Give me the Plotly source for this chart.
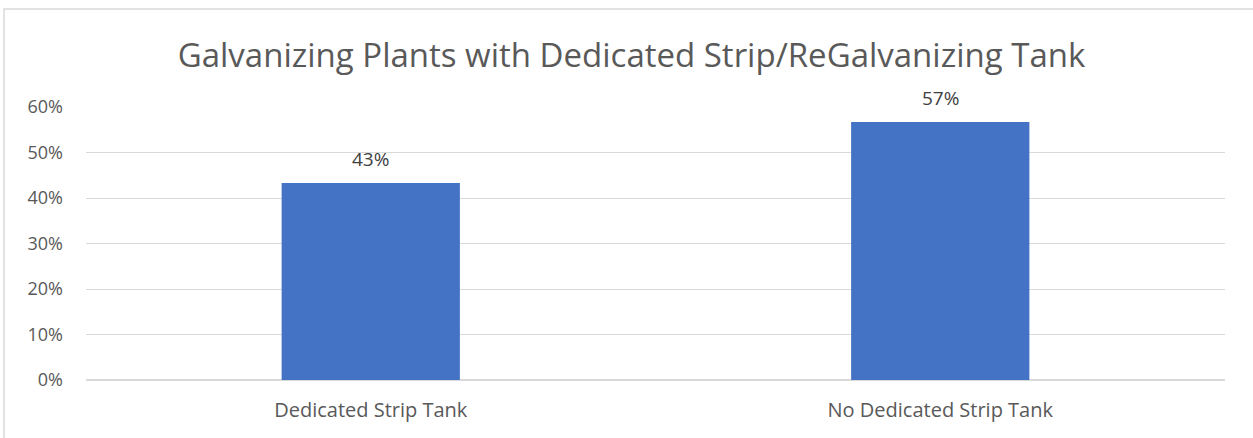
import plotly.graph_objects as go

# Share of galvanizing plants by strip/regalvanizing tank setup
categories = ["Dedicated Strip Tank", "No Dedicated Strip Tank"]
shares = [0.433, 0.567]
tick_values = [0, 0.1, 0.2, 0.3, 0.4, 0.5, 0.6]
tick_labels = ["0%", "10%", "20%", "30%", "40%", "50%", "60%"]

FONT = "Open Sans"
GREY_TEXT = "#595959"
GRID = "#d9d9d9"
BAR = "#4472c4"

fig = go.Figure()
fig.add_trace(go.Bar(
    x=categories,
    y=shares,
    marker=dict(color=BAR, line=dict(width=0)),
    width=0.313,
    hoverinfo="skip",
))

# value labels above each bar
for c, v in zip(categories, shares):
    fig.add_annotation(
        x=c, y=v, text=f"{v:.0%}", showarrow=False,
        yanchor="bottom", yshift=9,
        font=dict(family=FONT, size=19, color="#404040"),
    )

# chart frame
fig.add_shape(
    type="rect", xref="paper", yref="paper",
    x0=-0.072, x1=1.2, y0=-0.6, y1=1.359,
    line=dict(color=GRID, width=1.5), fillcolor="rgba(0,0,0,0)", layer="below",
)

fig.update_layout(
    width=1253, height=438,
    margin=dict(l=86, r=28, t=107, b=58),
    paper_bgcolor="white", plot_bgcolor="white",
    showlegend=False,
    title=dict(
        text="Galvanizing Plants with Dedicated Strip/ReGalvanizing Tank",
        x=0.504, xanchor="center", y=1 - 55 / 438, yanchor="middle",
        font=dict(family=FONT, size=33, color=GREY_TEXT),
    ),
    xaxis=dict(
        showgrid=False, showline=False, zeroline=False,
        ticklabelstandoff=16,
        tickfont=dict(family=FONT, size=20, color=GREY_TEXT),
    ),
    yaxis=dict(
        range=[0, 0.6],
        tickvals=tick_values, ticktext=tick_labels,
        showgrid=True, gridcolor=GRID, gridwidth=1,
        zeroline=True, zerolinecolor=GRID, zerolinewidth=1.5,
        showline=False,
        ticklabelstandoff=22,
        tickfont=dict(family=FONT, size=18, color=GREY_TEXT),
    ),
)

fig.write_html("out.html")
